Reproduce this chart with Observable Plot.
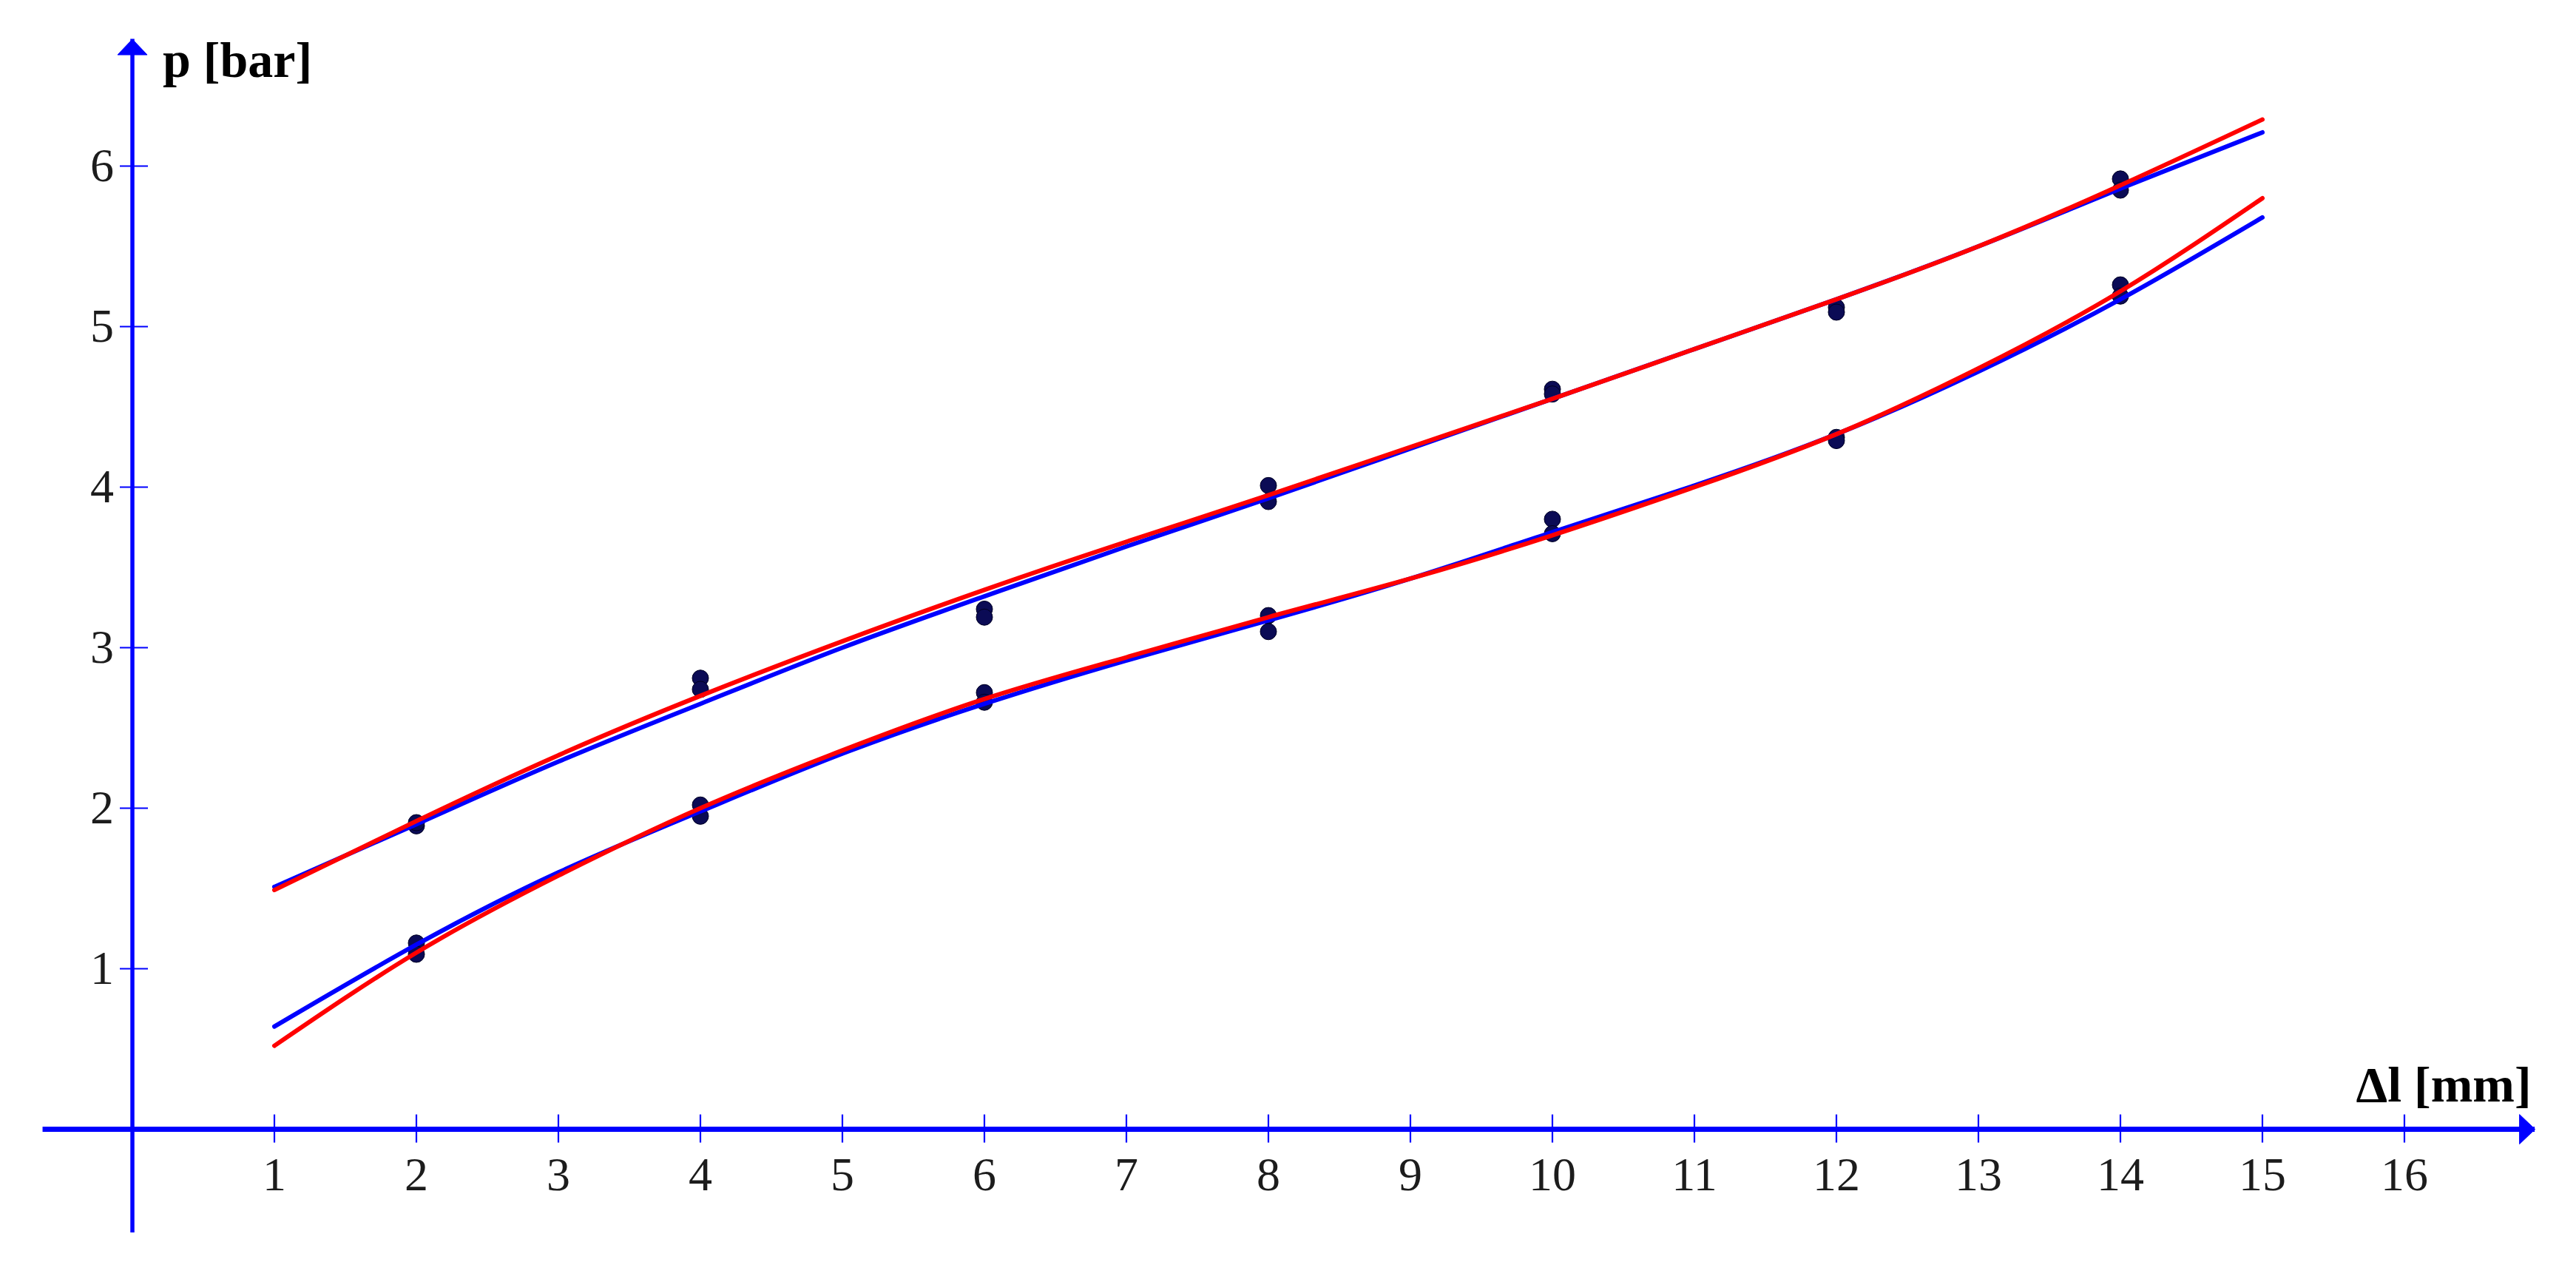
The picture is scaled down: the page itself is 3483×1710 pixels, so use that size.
<!DOCTYPE html>
<html>
<head>
<meta charset="utf-8">
<script src="https://cdn.jsdelivr.net/npm/d3@7"></script>
<script src="https://cdn.jsdelivr.net/npm/@observablehq/plot@0.6"></script>
<style>
  html, body { margin: 0; padding: 0; background: #ffffff; }
  #chart svg { display: block; overflow: visible; }
</style>
</head>
<body>
<div id="chart"></div>
<script>
// ---- tick labels ----
const xTicks = [1, 2, 3, 4, 5, 6, 7, 8, 9, 10, 11, 12, 13, 14, 15, 16];
const yTicks = [1, 2, 3, 4, 5, 6];
const xLabel = "Δl [mm]";
const yLabel = "p [bar]";

// ---- axis extents (data units) ----
const xAxisStart = -0.63;
const xAxisEnd = 16.92;
const yAxisBottom = -0.645;
const yAxisTop = 6.79;

// ---- measured points (two readings per displacement) ----
const xMeas = [2, 4, 6, 8, 10, 12, 14];
const upperA = [1.89, 2.81, 3.24, 4.01, 4.61, 5.12, 5.92];
const upperB = [1.91, 2.74, 3.19, 3.91, 4.58, 5.09, 5.85];
const lowerA = [1.16, 2.02, 2.72, 3.20, 3.80, 4.31, 5.26];
const lowerB = [1.09, 1.95, 2.66, 3.10, 3.71, 4.29, 5.19];

// ---- fitted curves (read at x = 1..15) ----
const xFit = [1, 2, 3, 4, 5, 6, 7, 8, 9, 10, 11, 12, 13, 14, 15];
const upperBlue = [1.51, 1.90, 2.29, 2.65, 3.00, 3.32, 3.63, 3.93, 4.24, 4.55, 4.86, 5.17, 5.50, 5.86, 6.21];
const upperRed  = [1.49, 1.92, 2.33, 2.70, 3.04, 3.36, 3.66, 3.95, 4.25, 4.55, 4.86, 5.17, 5.50, 5.88, 6.29];
const lowerBlue = [0.64, 1.15, 1.60, 1.98, 2.34, 2.65, 2.92, 3.17, 3.43, 3.72, 4.01, 4.33, 4.72, 5.17, 5.68];
const lowerRed  = [0.52, 1.10, 1.58, 2.00, 2.36, 2.68, 2.94, 3.19, 3.43, 3.70, 4.00, 4.33, 4.74, 5.22, 5.80];

// ---- tables ----
const points = [];
[upperA, upperB, lowerA, lowerB].forEach((arr, k) =>
  arr.forEach((v, i) => points.push({x: xMeas[i], y: v, set: k})));

function curveRows(vals, name) { return vals.map((v, i) => ({x: xFit[i], y: v, series: name})); }
const blueRows = [...curveRows(upperBlue, "upper"), ...curveRows(lowerBlue, "lower")];
const redRows = [...curveRows(upperRed, "upper"), ...curveRows(lowerRed, "lower")];

// ---- custom symbols ----
const arrowHead = {draw(c) { c.moveTo(0, 0); c.lineTo(20, 21); c.lineTo(-20, 21); c.closePath(); }};
const vTick = {draw(c) { c.moveTo(0, -20); c.lineTo(0, 18); }};
const hTick = {draw(c) { c.moveTo(-17, 0); c.lineTo(21, 0); }};

const AX = "#0000ff";
const serif = "'Liberation Serif', 'Times New Roman', serif";

const chart = Plot.plot({
  width: 3483,
  height: 1710,
  marginLeft: 178.5,
  marginRight: 232.5,
  marginTop: 224,
  marginBottom: 184,
  style: {background: "#ffffff", fontFamily: serif, overflow: "visible"},
  x: {domain: [0, 16], axis: null},
  y: {domain: [0, 6], axis: null},
  marks: [
    // axes
    Plot.ruleY([0], {x1: xAxisStart, x2: xAxisEnd, stroke: AX, strokeWidth: 7}),
    Plot.ruleX([0], {y1: yAxisBottom, y2: yAxisTop, stroke: AX, strokeWidth: 5.5}),
    Plot.dot([0], {x: xAxisEnd, y: 0, r: 10, symbol: arrowHead, rotate: 90, fill: AX, stroke: AX, strokeWidth: 1}),
    Plot.dot([0], {x: 0, y: yAxisTop, r: 10, symbol: arrowHead, fill: AX, stroke: AX, strokeWidth: 1}),
    // ticks
    Plot.dot(xTicks, {x: d => d, y: 0, r: 10, symbol: vTick, fill: "none", stroke: AX, strokeWidth: 2.2}),
    Plot.dot(yTicks, {x: 0, y: d => d, r: 10, symbol: hTick, fill: "none", stroke: AX, strokeWidth: 2.2}),
    // tick labels
    Plot.text(xTicks, {x: d => d, y: 0, text: d => String(d), lineAnchor: "top", dy: 37,
      fontSize: 64, fontFamily: serif, fill: "#1c1c1c"}),
    Plot.text(yTicks, {x: 0, y: d => d, text: d => String(d), textAnchor: "end", lineAnchor: "middle", dx: -25,
      fontSize: 64, fontFamily: serif, fill: "#1c1c1c"}),
    // axis labels
    Plot.text([yLabel], {x: 0, y: yAxisTop, text: d => d, textAnchor: "start", lineAnchor: "bottom",
      dx: 41, dy: 51, fontSize: 68, fontWeight: "bold", fontFamily: serif, fill: "#000"}),
    Plot.text([xLabel], {x: xAxisEnd, y: 0, text: d => d, textAnchor: "end", lineAnchor: "bottom",
      dx: -5, dy: -38, fontSize: 68, fontWeight: "bold", fontFamily: serif, fill: "#000"}),
    // measured points
    Plot.dot(points, {x: "x", y: "y", r: 11, fill: "#0b0b55", stroke: "#000022", strokeWidth: 1}),
    // fitted curves
    Plot.line(blueRows, {x: "x", y: "y", z: "series", stroke: "#0000ff", strokeWidth: 6, curve: "natural"}),
    Plot.line(redRows, {x: "x", y: "y", z: "series", stroke: "#ff0000", strokeWidth: 6, curve: "natural"})
  ]
});

document.getElementById("chart").appendChild(chart);
</script>
</body>
</html>
